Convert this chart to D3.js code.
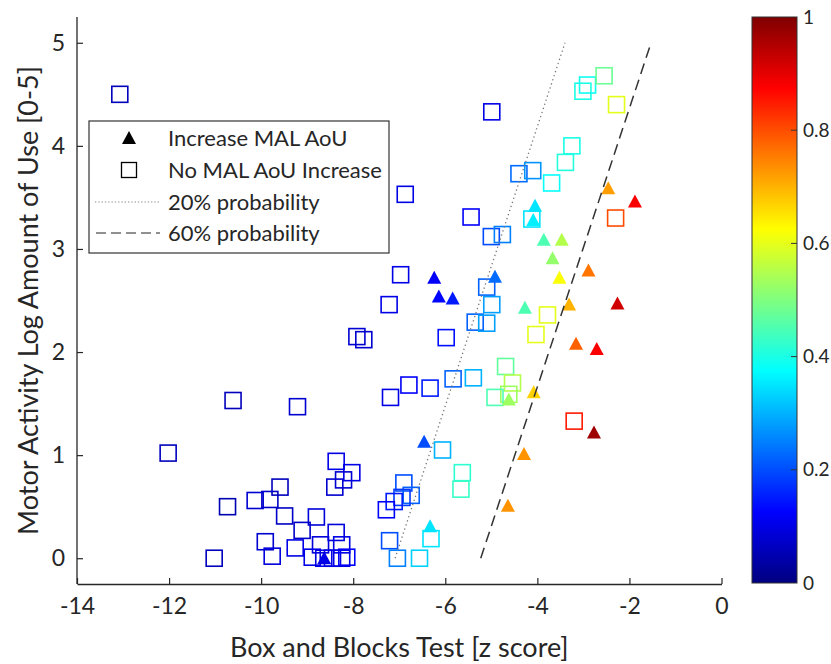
<!DOCTYPE html>
<html>
<head>
<meta charset="utf-8">
<script src="https://cdn.jsdelivr.net/npm/d3@7"></script>
<style>
  html, body { margin: 0; padding: 0; background: #fff; }
  svg text { font-family: Lato, "Open Sans", sans-serif; fill: #262626; }
</style>
</head>
<body>
<svg id="chart" width="831" height="664"></svg>
<script>
// Patients with an increase in MAL Amount of Use (triangles)
const incX = [-4.05, -4.09, -2.46, -1.88, -3.86, -3.47, -3.67, -2.89, -3.52, -4.92,
              -6.24, -6.14, -5.84, -4.27, -3.31, -2.26, -3.16, -2.71, -4.62, -4.08,
              -2.77, -6.46, -4.29, -4.64, -6.33, -8.63];
const incY = [3.42, 3.28, 3.59, 3.46, 3.09, 3.09, 2.91, 2.79, 2.72, 2.73,
              2.72, 2.54, 2.52, 2.43, 2.46, 2.47, 2.08, 2.03, 1.54, 1.61,
              1.22, 1.13, 1.01, 0.51, 0.31, 0.00];
const incP = [0.35, 0.36, 0.72, 0.88, 0.45, 0.55, 0.52, 0.76, 0.62, 0.23,
              0.12, 0.13, 0.15, 0.45, 0.70, 0.92, 0.78, 0.88, 0.53, 0.67,
              0.97, 0.20, 0.73, 0.73, 0.35, 0.10];

// Patients without an increase (squares)
const noX = [-13.07, -4.99, -6.87, -5.44, -5.00, -4.76, -4.40, -4.10, -4.12, -3.69,
             -3.39, -3.25, -3.01, -2.91, -2.55, -2.28, -2.30, -6.97, -7.22, -5.10,
             -4.99, -5.35, -5.10, -3.78, -4.03, -7.92, -7.77, -5.98, -6.79, -6.33,
             -7.19, -5.83, -5.39, -4.69, -4.54, -4.62, -4.92, -3.20, -6.06, -5.63,
             -5.66, -6.31, -7.21, -7.04, -6.56, -6.90, -6.74, -6.94, -7.11, -7.28,
             -10.61, -9.21, -12.02, -8.37, -8.03, -8.21, -8.40, -9.59, -9.81, -10.13,
             -10.73, -9.49, -8.80, -9.11, -8.37, -9.91, -9.26, -8.71, -8.25, -9.76,
             -8.89, -11.02, -8.64, -8.45, -8.25, -8.14];
const noY = [4.50, 4.33, 3.53, 3.31, 3.12, 3.14, 3.73, 3.76, 3.29, 3.64,
             3.84, 4.00, 4.53, 4.59, 4.68, 4.40, 3.30, 2.75, 2.46, 2.63,
             2.46, 2.29, 2.28, 2.36, 2.17, 2.15, 2.12, 2.14, 1.68, 1.65,
             1.56, 1.74, 1.75, 1.86, 1.70, 1.59, 1.56, 1.33, 1.05, 0.83,
             0.67, 0.19, 0.17, 0.00, 0.00, 0.73, 0.61, 0.59, 0.55, 0.47,
             1.53, 1.47, 1.02, 0.94, 0.83, 0.76, 0.69, 0.69, 0.57, 0.56,
             0.50, 0.41, 0.40, 0.27, 0.25, 0.16, 0.10, 0.13, 0.13, 0.02,
             0.01, 0.00, 0.00, 0.00, 0.00, 0.01];
const noP = [0.06, 0.10, 0.10, 0.12, 0.20, 0.25, 0.23, 0.27, 0.35, 0.38,
             0.41, 0.40, 0.40, 0.39, 0.48, 0.60, 0.80, 0.10, 0.10, 0.22,
             0.28, 0.22, 0.28, 0.60, 0.60, 0.08, 0.08, 0.14, 0.12, 0.15,
             0.10, 0.22, 0.30, 0.47, 0.55, 0.53, 0.45, 0.85, 0.30, 0.42,
             0.43, 0.35, 0.20, 0.25, 0.33, 0.20, 0.22, 0.18, 0.15, 0.12,
             0.06, 0.08, 0.06, 0.10, 0.10, 0.08, 0.08, 0.06, 0.07, 0.08,
             0.05, 0.07, 0.09, 0.07, 0.09, 0.08, 0.10, 0.09, 0.10, 0.09,
             0.10, 0.06, 0.10, 0.10, 0.10, 0.12];

// Iso-probability lines (endpoints)
const line20X = [-7.09, -3.40], line20Y = [0, 5];
const line60X = [-5.23, -1.53], line60Y = [0, 5];

// Axis ticks
const xTicks = [-14, -12, -10, -8, -6, -4, -2, 0];
const yTicks = [0, 1, 2, 3, 4, 5];
const cTicks = [0, 0.2, 0.4, 0.6, 0.8, 1];

const legendLabels = ["Increase MAL AoU", "No MAL AoU Increase", "20% probability", "60% probability"];

// MATLAB-style jet colormap
function jet(t) {
  const c = v => Math.round(255 * Math.max(0, Math.min(1, v)));
  return d3.rgb(c(1.5 - Math.abs(4 * t - 3)), c(1.5 - Math.abs(4 * t - 2)), c(1.5 - Math.abs(4 * t - 1))).formatHex();
}
const plain = d => String(d);

const svg = d3.select("#chart");
const plotL = 77, plotR = 721.5, plotT = 17, plotB = 584;
const x = d3.scaleLinear().domain([-14, 0]).range([plotL, plotR]);
const y = d3.scaleLinear().domain([-0.25, 5.25]).range([plotB, plotT]);
const axisColor = "#262626";
const tickFont = "23px";

// Squares
const sqSize = 16;
const squares = d3.range(noX.length).map(i => ({x: noX[i], y: noY[i], p: noP[i]}));
svg.append("g").selectAll("rect").data(squares).join("rect")
  .attr("x", d => x(d.x) - sqSize / 2)
  .attr("y", d => y(d.y) - sqSize / 2)
  .attr("width", sqSize).attr("height", sqSize)
  .attr("fill", "none")
  .attr("stroke", d => jet(d.p))
  .attr("stroke-width", 1.6);

// Triangles
const triW = 14, triH = 12;
const tris = d3.range(incX.length).map(i => ({x: incX[i], y: incY[i], p: incP[i]}));
const triPath = `M0,${-triH / 2 - 1}L${triW / 2},${triH / 2}L${-triW / 2},${triH / 2}Z`;
svg.append("g").selectAll("path").data(tris).join("path")
  .attr("d", triPath)
  .attr("transform", d => `translate(${x(d.x)},${y(d.y)})`)
  .attr("fill", d => jet(d.p));

// Probability lines
const lineGen = d3.line().x(d => x(d[0])).y(d => y(d[1]));
svg.append("path")
  .attr("d", lineGen(line20X.map((v, i) => [v, line20Y[i]])))
  .attr("fill", "none").attr("stroke", "#777").attr("stroke-width", 1.3)
  .attr("stroke-dasharray", "1.3,3");
svg.append("path")
  .attr("d", lineGen(line60X.map((v, i) => [v, line60Y[i]])))
  .attr("fill", "none").attr("stroke", "#333").attr("stroke-width", 1.5)
  .attr("stroke-dasharray", "11,6");

// Axes (ticks pointing inward)
const xAxis = svg.append("g").attr("transform", `translate(0,${plotB})`)
  .call(d3.axisBottom(x).tickValues(xTicks).tickFormat(plain).tickSizeInner(-6).tickSizeOuter(0).tickPadding(14));
const yAxis = svg.append("g").attr("transform", `translate(${plotL},0)`)
  .call(d3.axisLeft(y).tickValues(yTicks).tickFormat(plain).tickSizeInner(-6).tickSizeOuter(0).tickPadding(12));
[xAxis, yAxis].forEach(g => {
  g.select(".domain").attr("stroke", axisColor).attr("stroke-width", 1.3);
  g.selectAll(".tick line").attr("stroke", axisColor).attr("stroke-width", 1.2);
  g.selectAll(".tick text").style("font-size", tickFont).attr("fill", axisColor)
    .style("font-family", "Lato, sans-serif");
});
// the x axis line ends at 0; the y axis line runs up to the top limit
yAxis.select(".domain").attr("d", `M0,${plotB}V${plotT}`);

// Axis titles
svg.append("text").attr("x", (plotL + plotR) / 2).attr("y", 657)
  .attr("text-anchor", "middle").style("font-size", "27px")
  .text("Box and Blocks Test [z score]");
svg.append("text").attr("transform", `translate(38,${(plotT + plotB) / 2}) rotate(-90)`)
  .attr("text-anchor", "middle").style("font-size", "27px")
  .text("Motor Activity Log Amount of Use [0-5]");

// Legend
const lg = svg.append("g");
lg.append("rect").attr("x", 89).attr("y", 121).attr("width", 300).attr("height", 132)
  .attr("fill", "#fff").attr("stroke", "#333").attr("stroke-width", 1.2);
const rowY = [138, 170, 202, 233];
lg.append("path").attr("d", triPath).attr("transform", `translate(129,${rowY[0]})`).attr("fill", "#000");
lg.append("rect").attr("x", 129 - 7.5).attr("y", rowY[1] - 7.5).attr("width", 15).attr("height", 15)
  .attr("fill", "none").attr("stroke", "#000").attr("stroke-width", 1.3);
lg.append("line").attr("x1", 95).attr("x2", 160).attr("y1", rowY[2]).attr("y2", rowY[2])
  .attr("stroke", "#888").attr("stroke-width", 1).attr("stroke-dasharray", "1.3,2");
lg.append("line").attr("x1", 96).attr("x2", 160).attr("y1", rowY[3]).attr("y2", rowY[3])
  .attr("stroke", "#222").attr("stroke-width", 1.2).attr("stroke-dasharray", "10,5");
lg.selectAll("text.lab").data(legendLabels).join("text").attr("class", "lab")
  .attr("x", 168).attr("y", (d, i) => rowY[i]).attr("dy", "0.35em")
  .style("font-size", "22px").text(d => d);

// Colorbar
const cbX = 752, cbW = 45;
const defs = svg.append("defs");
const grad = defs.append("linearGradient").attr("id", "jetGrad")
  .attr("x1", 0).attr("y1", 1).attr("x2", 0).attr("y2", 0);
d3.range(0, 1.0001, 1 / 64).forEach(t => {
  grad.append("stop").attr("offset", t).attr("stop-color", jet(t));
});
const cScale = d3.scaleLinear().domain([0, 1]).range([plotB - 1, plotT]);
svg.append("rect").attr("x", cbX).attr("y", plotT).attr("width", cbW).attr("height", plotB - 1 - plotT)
  .attr("fill", "url(#jetGrad)").attr("stroke", "#333").attr("stroke-width", 1);
const cb = svg.append("g");
cb.selectAll("line").data(cTicks.slice(1, -1)).join("line")
  .attr("x1", cbX + cbW - 6).attr("x2", cbX + cbW)
  .attr("y1", d => cScale(d)).attr("y2", d => cScale(d))
  .attr("stroke", "#333").attr("stroke-width", 1);
cb.selectAll("text").data(cTicks).join("text")
  .attr("x", 803).attr("y", d => cScale(d)).attr("dy", "0.35em")
  .style("font-size", "19px").text(plain);
</script>
</body>
</html>
